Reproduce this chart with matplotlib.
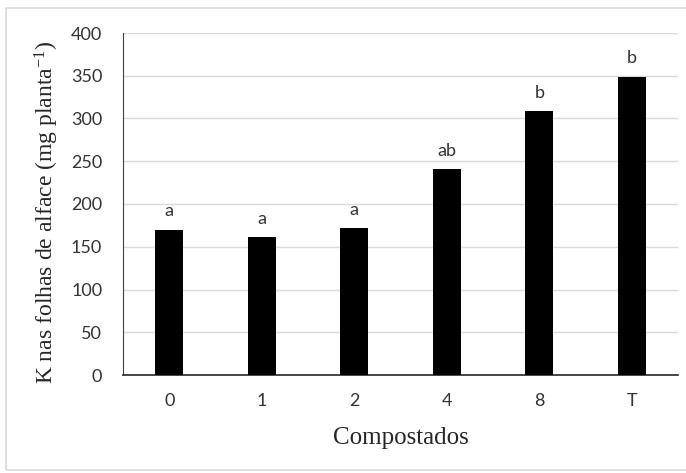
import matplotlib
matplotlib.use("Agg")
import matplotlib.pyplot as plt
from matplotlib.patches import Rectangle

plt.rcParams["mathtext.fontset"] = "custom"
plt.rcParams["mathtext.rm"] = "Liberation Serif"
plt.rcParams["mathtext.it"] = "Liberation Serif:italic"

categories = ["0", "1", "2", "4", "8", "T"]
values = [170, 161, 172, 241, 309, 349]
letters = ["a", "a", "a", "ab", "b", "b"]
yticks = [0, 50, 100, 150, 200, 250, 300, 350, 400]

W, H = 686, 473
fig = plt.figure(figsize=(W/100, H/100), dpi=100)
fig.patches.append(Rectangle((6/W, 3/H), 1 - 6/W + 0.01, 1 - 11/H, transform=fig.transFigure,
                             fill=False, edgecolor="#d9d9d9", linewidth=1.2))
ax = fig.add_axes([123/W, 1 - 375/H, (678-123)/W, (375-33)/H])

x = list(range(len(categories)))
ax.bar(x, values, width=0.3, color="black", zorder=3)
for xi, v, l in zip(x, values, letters):
    ax.text(xi, v + 12, l, ha="center", va="bottom", fontsize=13,
            family="Lato", color="#333333")

ax.set_xlim(-0.5, len(categories) - 0.5)
ax.set_ylim(0, 400)
ax.set_yticks(yticks)
ax.set_xticks(x)
ax.set_xticklabels(categories)
ax.tick_params(length=0, labelsize=13, colors="#333333")
ax.tick_params(axis="y", pad=15)
ax.tick_params(axis="x", pad=13)
for lab in ax.get_xticklabels() + ax.get_yticklabels():
    lab.set_family("Lato")
ax.grid(axis="y", color="#d9d9d9", linewidth=1, zorder=0)
for s in ["top", "right"]:
    ax.spines[s].set_visible(False)
ax.spines["left"].set_color("#404040")
ax.spines["bottom"].set_color("#262626")
ax.spines["bottom"].set_linewidth(1.2)

ax.set_ylabel(r"K nas folhas de alface (mg planta$^{\mathrm{-1}}$)", family="Liberation Serif",
              fontsize=17, color="#262626", va="center")
ax.yaxis.set_label_coords((47 - 123) / 555, (375 - 212) / 342)
ax.set_xlabel("Compostados", family="Liberation Serif", fontsize=18, color="#262626",
              va="center")
ax.xaxis.set_label_coords(0.5, (375 - 438) / 342)
fig.savefig("out.png", dpi=100)
